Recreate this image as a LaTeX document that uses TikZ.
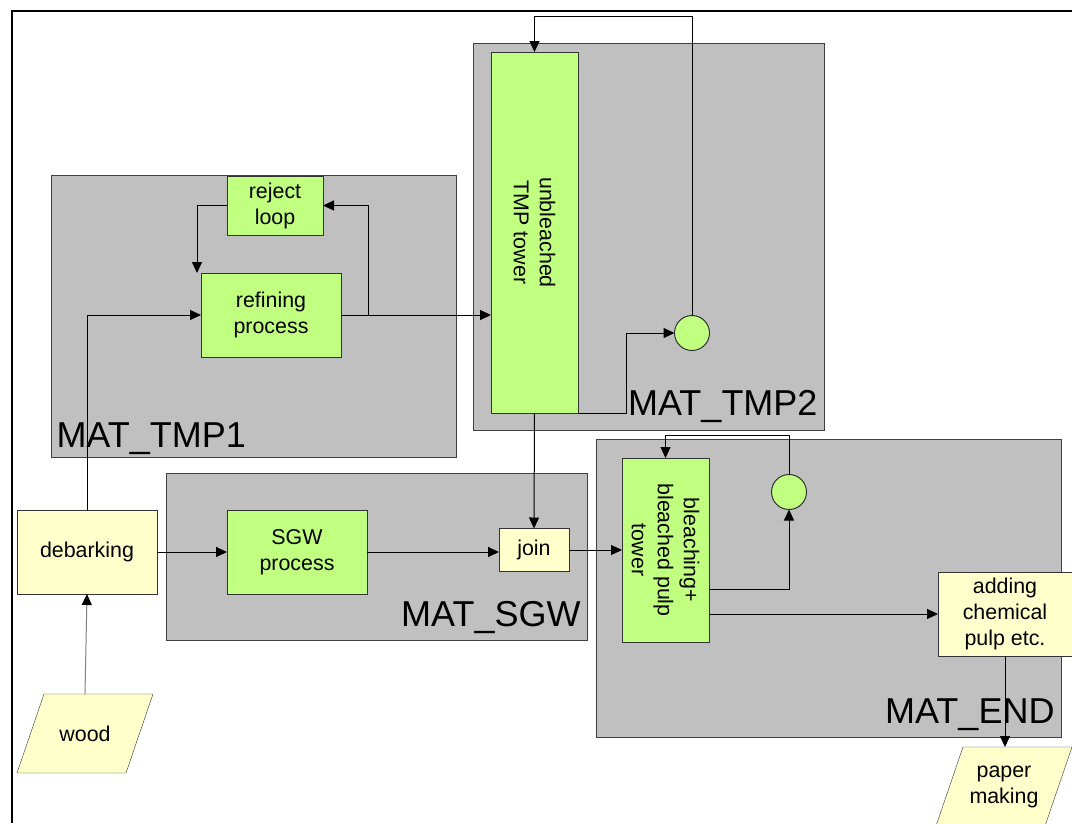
\documentclass[tikz,border=0pt]{standalone}
\usepackage{fontspec}
\setmainfont{Liberation Sans}
\usetikzlibrary{arrows.meta,calc,backgrounds}

\definecolor{procgreen}{RGB}{192,255,128}
\definecolor{ioyellow}{RGB}{255,255,204}
\definecolor{groupgray}{RGB}{192,192,192}

\begin{document}
\begin{tikzpicture}[
  x=1pt, y=-1pt,
  font=\fontsize{21.4}{26}\selectfont,
  >={Triangle[length=11pt,width=10pt]},
  line width=1pt,
  group/.style ={draw=black!75,fill=groupgray,rectangle,inner sep=0pt,outer sep=0pt},
  grouplabel/.style={font=\fontsize{36}{40}\selectfont,inner sep=0pt},
  proc/.style  ={draw=black!80,fill=procgreen,rectangle,inner sep=0pt,outer sep=0pt,
                 align=center},
  io/.style    ={draw=black!80,fill=ioyellow,rectangle,inner sep=0pt,outer sep=0pt,
                 align=center},
  data/.style  ={rectangle,inner sep=0pt,outer sep=0pt,align=center,
                 minimum width=136pt,minimum height=79pt},
  datashape/.style={draw=black!80,fill=ioyellow},
  pump/.style  ={draw=black!80,fill=procgreen,circle,inner sep=0pt,outer sep=0pt,
                 minimum size=35pt},
]

\useasboundingbox (0,0) rectangle (1072,823);
\clip (0,0) rectangle (1072,823);

% page frame
\draw[line width=2pt] (12,823) -- (12,11) -- (1072,11);

%% =============================================
%% Group boxes
%% =============================================
\node[group,minimum width=405pt,minimum height=282pt] (tmpone) at (253.5,316) {};
\node[group,minimum width=351pt,minimum height=387pt] (tmptwo) at (648.5,236.5) {};
\node[group,minimum width=421pt,minimum height=167pt] (sgw)    at (376.5,556.5) {};
\node[group,minimum width=465pt,minimum height=298pt] (matend) at (828.5,588) {};

\node[grouplabel,anchor=base west] (tmponelbl) at ($(tmpone.south west)+(5,-10)$) {MAT\_TMP1};
\node[grouplabel,anchor=base east] (tmptwolbl) at ($(tmptwo.south east)+(-6,-15)$) {MAT\_TMP2};
\node[grouplabel,anchor=base east] (sgwlbl)    at ($(sgw.south east)+(-6,-14)$)    {MAT\_SGW};
\node[grouplabel,anchor=base east] (matendlbl) at ($(matend.south east)+(-6,-14)$) {MAT\_END};

%% =============================================
%% TMP line
%% =============================================
\node[proc,minimum width=96pt,minimum height=59pt]  (reject) at (275,205.5) {reject\\loop};
\node[proc,minimum width=140pt,minimum height=84pt] (refine) at (271,315)   {refining\\process};

\node[proc,minimum width=87pt,minimum height=361pt] (tower) at (534.5,232.5) {};
\node[rotate=-90,align=center] (towertxt) at (tower.center) {unbleached\\TMP tower};
\node[pump] (pumpone) at (692,333) {};
\coordinate (toptmp) at (534.5,16);

%% =============================================
%% Input side and SGW line
%% =============================================
\node[io,minimum width=140pt,minimum height=84pt] (debark) at (87,552) {debarking};
\node[data] (wood) at (85,733.5) {wood};

\node[proc,minimum width=140pt,minimum height=84pt] (sgwproc) at (297,552) {SGW\\process};
\node[io,minimum width=70pt,minimum height=43pt] (join) at (534,550) {join};

%% =============================================
%% End of line
%% =============================================
\node[proc,minimum width=87pt,minimum height=184pt] (bleach) at (665.5,550) {};
\node[rotate=-90,align=center] (bleachtxt) at (bleach.center) {bleaching+\\bleached pulp\\tower};
\node[pump] (pumptwo) at (789,492) {};
\coordinate (topend) at (665.5,435);

\node[io,minimum width=134pt,minimum height=84pt] (adding) at (1005,614) {adding\\chemical\\pulp etc.};
\node[data] (paper) at (1004,786.5) {paper\\making};

% slanted outlines of the two data nodes
\begin{scope}[on background layer]
  \foreach \n in {wood,paper}
    \draw[datashape] (\n.south west) -- ($(\n.north west)+(27,0)$) -- (\n.north east)
                     -- ($(\n.south east)+(-27,0)$) -- cycle;
\end{scope}

%% =============================================
%% Connections
%% =============================================
\draw[->] (debark.north) |- (refine.west);
\draw[->] (refine.east) -- (refine.east -| tower.west);
\draw[->] (refine.east) -- ++(27,0) |- (reject.east);
\draw[->] (reject.west) -| ([xshift=-4pt]refine.north west);
\draw[->] (tower.south east) -- ++(48,0) |- (pumpone.west);
\draw[->] (pumpone.north) |- (toptmp) -- (tower.north);
\draw[->] (tower.south) -- (join.north);

\draw[-{Triangle[length=11pt,width=10pt,color=black]},draw=gray] (wood.north) -- (debark.south);
\draw[->] (debark.east) -- (sgwproc.west);
\draw[->] (sgwproc.east) -- (sgwproc.east -| join.west);
\draw[->] (join.east) -- (join.east -| bleach.west);

\draw[->] ([yshift=-39pt]bleach.east) -| (pumptwo.south);
\draw[->] (pumptwo.north) |- (topend) -- (bleach.north);
\draw[->] (adding.west -| bleach.east) -- (adding.west);
\draw[->] (adding.south) -- (adding.south |- paper.north);

\end{tikzpicture}
\end{document}
